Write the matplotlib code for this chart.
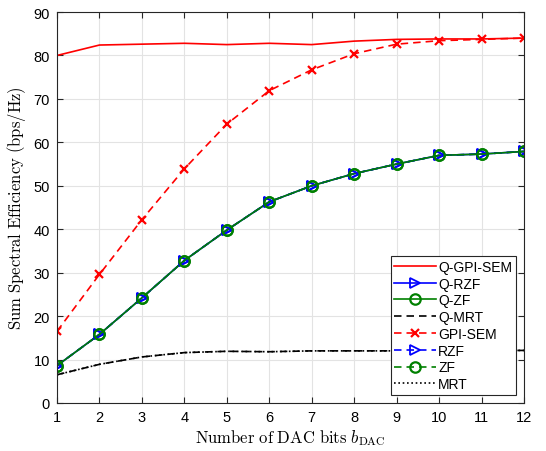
import numpy as np
import matplotlib.pyplot as plt

plt.rcParams['font.family'] = ['Liberation Sans', 'DejaVu Sans']
plt.rcParams['mathtext.fontset'] = 'cm'

bits = [1, 2, 3, 4, 5, 6, 7, 8, 9, 10, 11, 12]
q_gpi = [80.0, 82.4, 82.6, 82.8, 82.5, 82.8, 82.5, 83.3, 83.7, 83.8, 83.8, 84.0]
gpi = [16.5, 29.6, 42.2, 53.9, 64.2, 71.9, 76.7, 80.4, 82.6, 83.4, 83.7, 84.0]
q_rzf = [8.6, 15.8, 24.2, 32.8, 39.8, 46.3, 50.0, 52.8, 55.0, 57.0, 57.3, 57.9]
q_zf = [8.6, 15.8, 24.2, 32.8, 39.8, 46.3, 50.0, 52.8, 55.0, 57.0, 57.3, 57.9]
rzf = [8.6, 15.8, 24.2, 32.8, 39.8, 46.3, 50.0, 52.8, 55.0, 57.0, 57.3, 57.9]
zf = [8.6, 15.8, 24.2, 32.8, 39.8, 46.3, 50.0, 52.8, 55.0, 57.0, 57.3, 57.9]
q_mrt = [6.5, 8.9, 10.6, 11.6, 11.9, 11.8, 12.0, 12.0, 12.0, 12.1, 12.1, 12.1]
mrt = [6.5, 8.9, 10.6, 11.6, 11.9, 11.8, 12.0, 12.0, 12.0, 12.1, 12.1, 12.1]

dash = (0, (4.5, 3))
dot = (0, (1, 1.6))

fig = plt.figure(figsize=(5.46, 4.52), dpi=100)
ax = fig.add_axes([0.1044, 0.1062, 0.8553, 0.865])

ax.plot(bits, q_gpi, '-', color='red', lw=1.2, label='Q-GPI-SEM')
ax.plot(bits, q_rzf, '-', color='blue', lw=1.2, marker='>', ms=7.5, mfc='none', mew=1.3, label='Q-RZF')
ax.plot(bits, q_zf, '-', color='green', lw=1.2, marker='o', ms=7.5, mfc='none', mew=1.6, label='Q-ZF')
ax.plot(bits, q_mrt, ls=dash, color='black', lw=1.2, label='Q-MRT')
ax.plot(bits, gpi, ls=dash, color='red', lw=1.2, marker='x', ms=6, mew=1.6, label='GPI-SEM')
ax.plot(bits, rzf, ls=dash, color='blue', lw=1.2, marker='>', ms=7.5, mfc='none', mew=1.3, label='RZF')
ax.plot(bits, zf, ls=dash, color='green', lw=1.2, marker='o', ms=7.5, mfc='none', mew=1.6, label='ZF')
ax.plot(bits, mrt, ls=dot, color='black', lw=1.2, label='MRT')

ax.set_xlim(1, 12)
ax.set_ylim(0, 90)
ax.set_xticks(bits)
ax.set_yticks(np.arange(0, 91, 10))
ax.grid(True, color='#e3e3e3', lw=0.8)
ax.set_axisbelow(True)
ax.tick_params(direction='in', top=True, right=True, labelsize=10.5, length=4, pad=5, color='#262626')
for s in ax.spines.values():
    s.set_color('#262626')
    s.set_linewidth(0.8)

ax.set_xlabel(r'$\mathrm{Number\ of\ DAC\ bits}\ b_{\mathrm{DAC}}$', fontsize=12, labelpad=2)
ax.set_ylabel(r'$\mathrm{Sum\ Spectral\ Efficiency\ (bps/Hz)}$', fontsize=12)

leg = ax.legend(loc='lower right', fontsize=10, handlelength=3.0, borderpad=0.25,
                labelspacing=0.2, handletextpad=0.15, fancybox=False, framealpha=1,
                edgecolor='#262626', borderaxespad=0.6, numpoints=1)
leg.get_frame().set_linewidth(0.8)

fig.savefig('out.png', dpi=100)
